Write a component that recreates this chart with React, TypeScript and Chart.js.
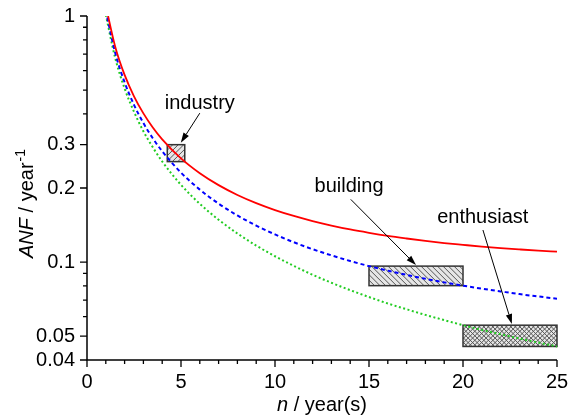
import { useEffect, useRef } from "react";
import { Chart, registerables } from "chart.js";

Chart.register(...registerables);

// ---------- data ----------
const years = [1, 1.5, 2, 2.5, 3, 3.5, 4, 5, 6, 7, 8, 9, 10, 11, 12, 13, 14, 15, 16, 17, 18, 19, 20, 21, 22, 23, 24, 25];
const anfRed = [1.1, 0.7506, 0.5762, 0.4717, 0.4021, 0.3525, 0.3155, 0.2638, 0.2296, 0.2054, 0.1874, 0.1736, 0.1627, 0.154, 0.1468, 0.1408, 0.1357, 0.1315, 0.1278, 0.1247, 0.1219, 0.1195, 0.1175, 0.1156, 0.114, 0.1126, 0.1113, 0.1102];
const anfBlue = [1.05, 0.7085, 0.5378, 0.4354, 0.3672, 0.3185, 0.282, 0.231, 0.197, 0.1728, 0.1547, 0.1407, 0.1295, 0.1204, 0.1128, 0.1065, 0.101, 0.0963, 0.0923, 0.0887, 0.0855, 0.0827, 0.0802, 0.078, 0.076, 0.0741, 0.0725, 0.071];
const anfGreen = [1.01, 0.675, 0.5075, 0.4082, 0.34, 0.2928, 0.2563, 0.206, 0.1725, 0.1486, 0.1307, 0.1167, 0.1056, 0.0965, 0.0888, 0.0824, 0.0769, 0.0721, 0.0679, 0.0643, 0.061, 0.0581, 0.0554, 0.053, 0.0509, 0.0489, 0.0471, 0.0454];

const yMajorTicks = [0.04, 0.05, 0.1, 0.2, 0.3, 1];
const yMinorTicks = [0.06, 0.07, 0.08, 0.09, 0.4, 0.5, 0.6, 0.7, 0.8, 0.9];
const xMajorTicks = [0, 5, 10, 15, 20, 25];
const xMinorTicks = [1, 2, 3, 4, 6, 7, 8, 9, 11, 12, 13, 14, 16, 17, 18, 19, 21, 22, 23, 24];

const boxLabels = ["industry", "building", "enthusiast"];
const boxXMin = [4.27, 15, 20];
const boxXMax = [5.2, 20, 25];
const boxYMin = [0.256, 0.0802, 0.0454];
const boxYMax = [0.3, 0.0963, 0.0554];
const boxHatch = ["/", "\\", "x"];
const labelX = [6.0, 13.94, 21.05];
const labelY = [0.419, 0.1926, 0.1437];
const arrowFromX = [6.0, 14.03, 21.06];
const arrowFromY = [0.403, 0.1798, 0.135];
const arrowToX = [4.99, 17.5, 22.6];
const arrowToY = [0.3055, 0.0972, 0.056];

const xTitleItalic = "n";
const xTitleRest = " / year(s)";
const yTitleItalic = "ANF";
const yTitleRest = " / year";
const yTitleSup = "-1";

const FONT = "'Liberation Sans', Arial, sans-serif";
const FS = 20;

const overlay = {
  id: "overlay",
  beforeDatasetsDraw(chart: any) {
    const { ctx } = chart;
    const xs = chart.scales.x;
    const ys = chart.scales.y;
    for (let i = 0; i < boxLabels.length; i++) {
      const x1 = xs.getPixelForValue(boxXMin[i]);
      const x2 = xs.getPixelForValue(boxXMax[i]);
      const y1 = ys.getPixelForValue(boxYMax[i]);
      const y2 = ys.getPixelForValue(boxYMin[i]);
      const w = x2 - x1;
      const h = y2 - y1;
      ctx.save();
      ctx.fillStyle = "#e6e6e6";
      ctx.fillRect(x1, y1, w, h);
      ctx.beginPath();
      ctx.rect(x1, y1, w, h);
      ctx.clip();
      ctx.strokeStyle = "#555";
      ctx.lineWidth = 1;
      const sp = boxHatch[i] === "x" ? 4.5 : 5.5;
      ctx.beginPath();
      const span = w + h;
      if (boxHatch[i] === "/" || boxHatch[i] === "x") {
        for (let d = -h; d <= span; d += sp) {
          ctx.moveTo(x1 + d, y2);
          ctx.lineTo(x1 + d + h, y1);
        }
      }
      if (boxHatch[i] === "\\" || boxHatch[i] === "x") {
        for (let d = -h; d <= span; d += sp) {
          ctx.moveTo(x1 + d, y1);
          ctx.lineTo(x1 + d + h, y2);
        }
      }
      ctx.stroke();
      ctx.restore();
      ctx.save();
      ctx.strokeStyle = "#333";
      ctx.lineWidth = 1.5;
      ctx.strokeRect(x1, y1, w, h);
      ctx.restore();
    }
  },
  afterDraw(chart: any) {
    const { ctx, chartArea } = chart;
    const xs = chart.scales.x;
    const ys = chart.scales.y;
    ctx.save();
    // axes lines
    ctx.strokeStyle = "#000";
    ctx.lineWidth = 1.5;
    ctx.beginPath();
    ctx.moveTo(chartArea.left, chartArea.top);
    ctx.lineTo(chartArea.left, chartArea.bottom);
    ctx.lineTo(chartArea.right, chartArea.bottom);
    ctx.stroke();
    // ticks
    ctx.lineWidth = 1.3;
    ctx.beginPath();
    yMajorTicks.forEach((v) => {
      const y = ys.getPixelForValue(v);
      ctx.moveTo(chartArea.left - 7, y);
      ctx.lineTo(chartArea.left, y);
    });
    yMinorTicks.forEach((v) => {
      const y = ys.getPixelForValue(v);
      ctx.moveTo(chartArea.left - 4, y);
      ctx.lineTo(chartArea.left, y);
    });
    xMajorTicks.forEach((v) => {
      const x = xs.getPixelForValue(v);
      ctx.moveTo(x, chartArea.bottom);
      ctx.lineTo(x, chartArea.bottom + 7);
    });
    xMinorTicks.forEach((v) => {
      const x = xs.getPixelForValue(v);
      ctx.moveTo(x, chartArea.bottom);
      ctx.lineTo(x, chartArea.bottom + 4);
    });
    ctx.stroke();

    // arrows
    for (let i = 0; i < boxLabels.length; i++) {
      const fx = xs.getPixelForValue(arrowFromX[i]);
      const fy = ys.getPixelForValue(arrowFromY[i]);
      const tx = xs.getPixelForValue(arrowToX[i]);
      const ty = ys.getPixelForValue(arrowToY[i]);
      const ang = Math.atan2(ty - fy, tx - fx);
      const hl = 10;
      const hw = 3.2;
      const bx = tx - hl * Math.cos(ang);
      const by = ty - hl * Math.sin(ang);
      ctx.strokeStyle = "#000";
      ctx.lineWidth = 1;
      ctx.beginPath();
      ctx.moveTo(fx, fy);
      ctx.lineTo(bx, by);
      ctx.stroke();
      ctx.fillStyle = "#000";
      ctx.beginPath();
      ctx.moveTo(tx, ty);
      ctx.lineTo(bx + hw * Math.sin(ang), by - hw * Math.cos(ang));
      ctx.lineTo(bx - hw * Math.sin(ang), by + hw * Math.cos(ang));
      ctx.closePath();
      ctx.fill();
      // label
      ctx.font = `${FS}px ${FONT}`;
      ctx.textAlign = "center";
      ctx.textBaseline = "alphabetic";
      ctx.fillText(boxLabels[i], xs.getPixelForValue(labelX[i]), ys.getPixelForValue(labelY[i]));
    }

    // x title
    ctx.fillStyle = "#000";
    ctx.textBaseline = "alphabetic";
    ctx.textAlign = "left";
    const itFont = `italic ${FS}px ${FONT}`;
    const nFont = `${FS}px ${FONT}`;
    ctx.font = itFont;
    const w1 = ctx.measureText(xTitleItalic).width;
    ctx.font = nFont;
    const w2 = ctx.measureText(xTitleRest).width;
    const cx = (chartArea.left + chartArea.right) / 2;
    const sx = cx - (w1 + w2) / 2;
    const by = 411;
    ctx.font = itFont;
    ctx.fillText(xTitleItalic, sx, by);
    ctx.font = nFont;
    ctx.fillText(xTitleRest, sx + w1, by);

    // y title (rotated)
    ctx.save();
    ctx.translate(33, 204);
    ctx.rotate(-Math.PI / 2);
    ctx.font = itFont;
    const a1 = ctx.measureText(yTitleItalic).width;
    ctx.font = nFont;
    const a2 = ctx.measureText(yTitleRest).width;
    const supFont = `${Math.round(FS * 0.7)}px ${FONT}`;
    ctx.font = supFont;
    const a3 = ctx.measureText(yTitleSup).width;
    const s = -(a1 + a2 + a3) / 2;
    ctx.font = itFont;
    ctx.fillText(yTitleItalic, s, 0);
    ctx.font = nFont;
    ctx.fillText(yTitleRest, s + a1, 0);
    ctx.font = supFont;
    ctx.fillText(yTitleSup, s + a1 + a2 + 1, -8);
    ctx.restore();

    ctx.restore();
  },
};

export default function App() {
  const ref = useRef<HTMLCanvasElement | null>(null);
  useEffect(() => {
    if (!ref.current) return;
    const mk = (ys: number[]) => years.map((x, i) => ({ x, y: ys[i] }));
    const chart = new Chart(ref.current, {
      type: "line",
      data: {
        datasets: [
          {
            data: mk(anfRed),
            borderColor: "#ff0000",
            borderWidth: 1.8,
            pointRadius: 0,
            cubicInterpolationMode: "monotone",
            fill: false,
          },
          {
            data: mk(anfBlue),
            borderColor: "#0000ff",
            borderWidth: 2,
            borderDash: [4, 3],
            pointRadius: 0,
            cubicInterpolationMode: "monotone",
            fill: false,
          },
          {
            data: mk(anfGreen),
            borderColor: "#22cc22",
            borderWidth: 2,
            borderDash: [2, 2.5],
            pointRadius: 0,
            cubicInterpolationMode: "monotone",
            fill: false,
          },
        ],
      },
      options: {
        animation: false,
        responsive: true,
        maintainAspectRatio: false,
        layout: { padding: { left: 0, top: 16, right: 11, bottom: 0 } },
        plugins: { legend: { display: false }, tooltip: { enabled: false } },
        scales: {
          x: {
            type: "linear",
            min: 0,
            max: 25,
            grid: { display: false, drawTicks: false },
            border: { display: false },
            afterBuildTicks: (s: any) => {
              s.ticks = xMajorTicks.map((v) => ({ value: v }));
            },
            afterFit: (s: any) => {
              s.height = 58;
              s.paddingLeft = 0;
              s.paddingRight = 0;
            },
            ticks: {
              autoSkip: false,
              maxRotation: 0,
              padding: 10,
              color: "#000",
              font: { family: FONT, size: FS },
              callback: (v: any) => String(v),
            },
          },
          y: {
            type: "logarithmic",
            min: 0.04,
            max: 1,
            grid: { display: false, drawTicks: false },
            border: { display: false },
            afterBuildTicks: (s: any) => {
              s.ticks = yMajorTicks.map((v) => ({ value: v }));
            },
            afterFit: (s: any) => {
              s.width = 87;
              s.paddingTop = 0;
              s.paddingBottom = 0;
            },
            ticks: {
              autoSkip: false,
              padding: 12,
              color: "#000",
              font: { family: FONT, size: FS },
              callback: (v: any) => String(v),
            },
          },
        },
      },
      plugins: [overlay],
    });
    return () => chart.destroy();
  }, []);
  return (
    <div style={{ position: "fixed", left: 0, top: 0, width: 568, height: 418, background: "#fff" }}>
      <canvas ref={ref} />
    </div>
  );
}
